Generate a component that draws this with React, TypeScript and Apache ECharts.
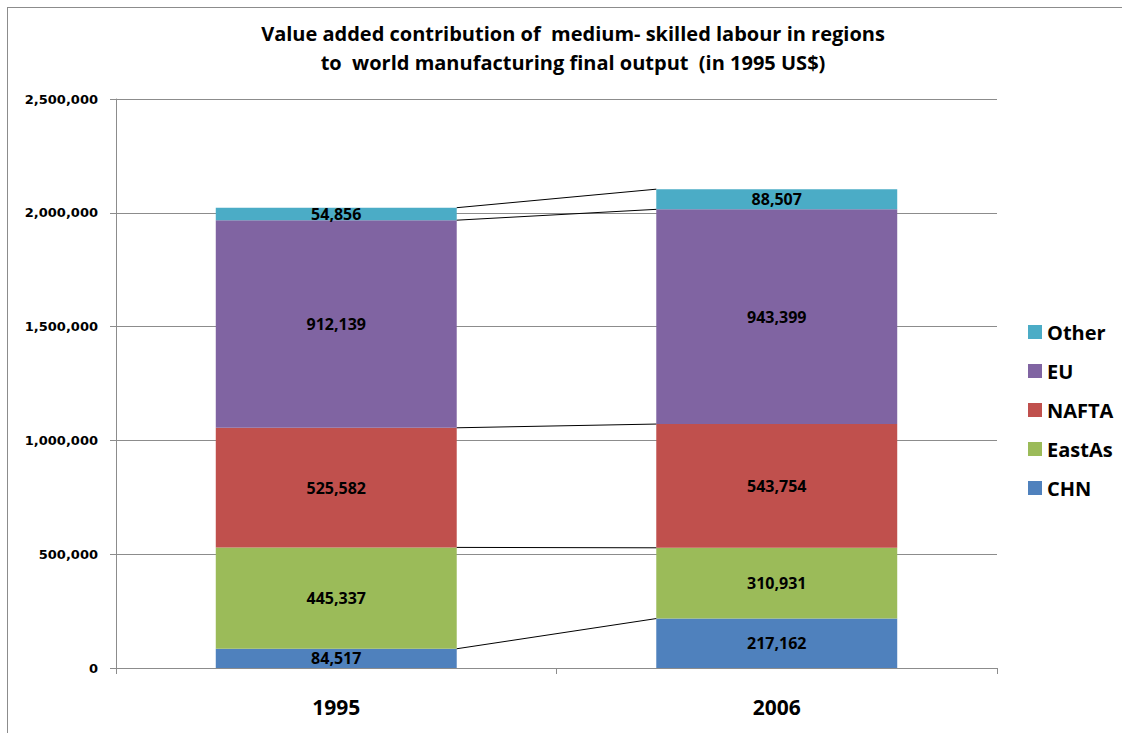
import React, { useEffect, useRef } from "react";
import * as echarts from "echarts";

const categories = ["1995", "2006"];
const seriesNames = ["CHN", "EastAs", "NAFTA", "EU", "Other"];
const chnValues = [84517, 217162];
const eastAsValues = [445337, 310931];
const naftaValues = [525582, 543754];
const euValues = [912139, 943399];
const otherValues = [54856, 88507];
const yTicks = { min: 0, max: 2500000, interval: 500000 };
const colors = ["#4F81BD", "#9BBB59", "#C0504D", "#8064A2", "#4BACC6"];
const titleLines = [
  "Value added contribution of  medium- skilled labour in regions",
  "to  world manufacturing final output  (in 1995 US$)",
];

const allValues = [chnValues, eastAsValues, naftaValues, euValues, otherValues];
const BAR_RATIO = 0.547;

const fmt = (v: number) => v.toLocaleString("en-US");

export default function App() {
  const ref = useRef<HTMLDivElement>(null);
  useEffect(() => {
    if (!ref.current) return;
    const chart = echarts.init(ref.current, null, { renderer: "svg" });
    const barSeries = seriesNames.map((name, i) => ({
      name,
      type: "bar",
      stack: "total",
      barWidth: (BAR_RATIO * 100).toFixed(1) + "%",
      data: allValues[i],
      itemStyle: { color: colors[i] },
      label: {
        show: true,
        position: "inside",
        color: "#000",
        fontFamily: "Open Sans",
        fontWeight: "bold",
        fontSize: 16,
        formatter: (p: any) => fmt(p.value),
      },
      emphasis: { disabled: true },
    }));
    const connector = {
      name: "connectors",
      type: "custom",
      silent: true,
      z: 5,
      data: [[0, 0]],
      renderItem: (params: any, api: any) => {
        const half = (api.size([1, 0])[0] * BAR_RATIO) / 2;
        const children: any[] = [];
        let c0 = 0;
        let c1 = 0;
        for (let i = 0; i < allValues.length; i++) {
          c0 += allValues[i][0];
          c1 += allValues[i][1];
          const p0 = api.coord([0, c0]);
          const p1 = api.coord([1, c1]);
          children.push({
            type: "line",
            shape: { x1: p0[0] + half, y1: p0[1], x2: p1[0] - half, y2: p1[1] },
            style: { stroke: "#000", lineWidth: 1 },
          });
        }
        return { type: "group", children };
      },
    };
    chart.setOption({
      animation: false,
      title: {
        text: titleLines.join("\n"),
        left: 568,
        top: 14,
        textAlign: "center",
        textStyle: {
          fontFamily: "Open Sans",
          fontWeight: "bold",
          fontSize: 20,
          lineHeight: 29,
          color: "#000",
        },
      },
      graphic: [
        { type: "line", shape: { x1: 7, y1: 7.5, x2: 1122, y2: 7.5 }, style: { stroke: "#8c8c8c", lineWidth: 1 } },
        { type: "line", shape: { x1: 7.5, y1: 7, x2: 7.5, y2: 733 }, style: { stroke: "#8c8c8c", lineWidth: 1 } },
      ],
      legend: {
        orient: "vertical",
        left: 1023,
        top: 317,
        data: [...seriesNames].reverse(),
        icon: "rect",
        itemWidth: 14,
        itemHeight: 14,
        itemGap: 19,
        textStyle: {
          fontFamily: "Open Sans",
          fontWeight: "bold",
          fontSize: 20,
          lineHeight: 20,
          color: "#000",
        },
      },
      grid: { left: 116, right: 125, top: 99, bottom: 65 },
      xAxis: {
        type: "category",
        data: categories,
        axisLine: { lineStyle: { color: "#8c8c8c" } },
        axisTick: { show: true, length: 6, lineStyle: { color: "#8c8c8c" } },
        axisLabel: {
          margin: 28,
          fontFamily: "Open Sans",
          fontWeight: "bold",
          fontSize: 21,
          color: "#000",
        },
      },
      yAxis: {
        type: "value",
        min: yTicks.min,
        max: yTicks.max,
        interval: yTicks.interval,
        axisLine: { show: true, lineStyle: { color: "#8c8c8c" } },
        axisTick: { show: true, length: 6, inside: false, lineStyle: { color: "#8c8c8c" } },
        splitLine: { lineStyle: { color: "#8c8c8c" } },
        axisLabel: {
          margin: 18,
          fontFamily: "DejaVu Sans",
          fontWeight: "bold",
          fontSize: 13,
          color: "#000",
          formatter: (v: number) => fmt(v),
        },
      },
      series: [...barSeries, connector],
    });
    return () => chart.dispose();
  }, []);
  return (
    <div
      ref={ref}
      style={{ position: "fixed", left: 0, top: 0, width: 1122, height: 733, background: "#fff" }}
    />
  );
}
